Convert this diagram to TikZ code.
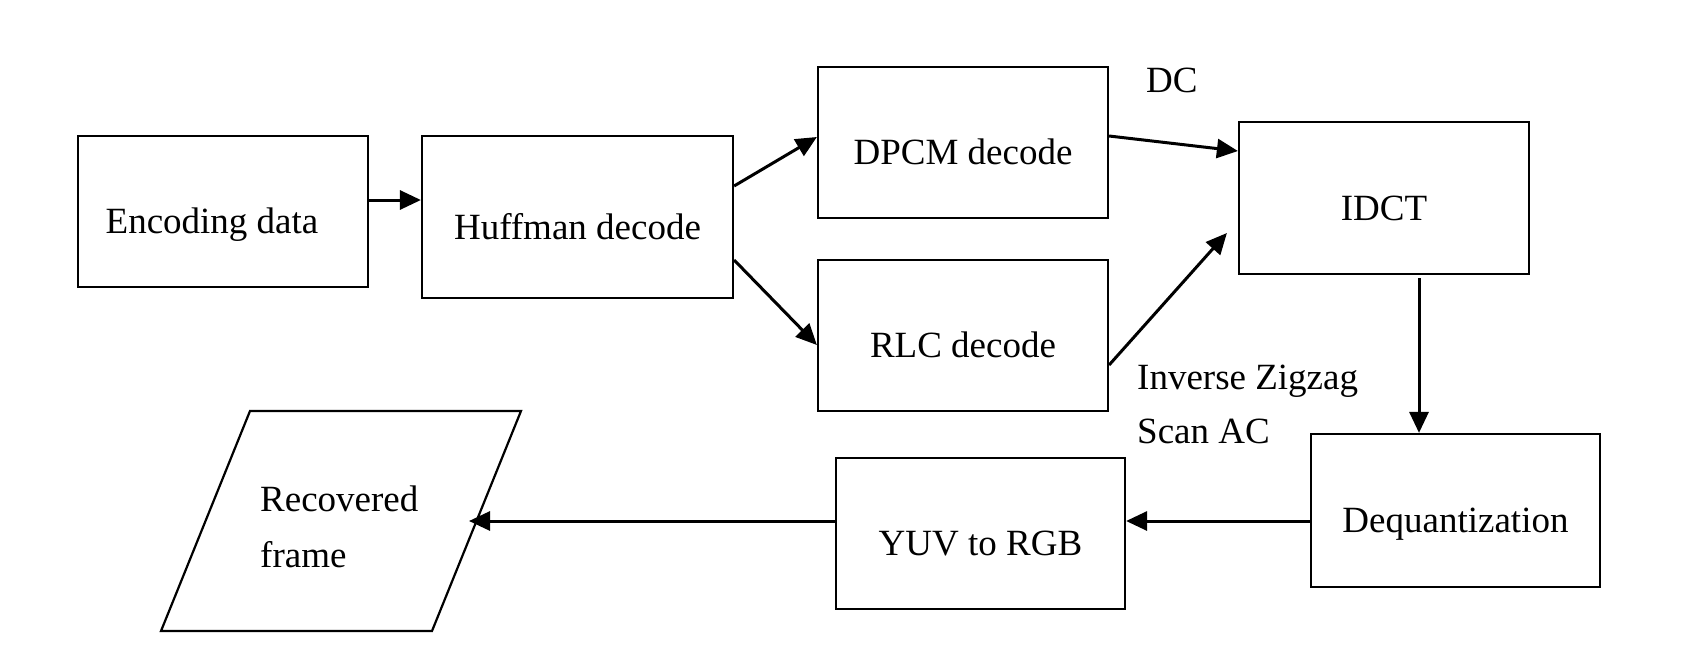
\documentclass[tikz,border=0pt]{standalone}
\usepackage{fontspec}
\setmainfont{Liberation Serif}
\usetikzlibrary{arrows.meta}
\begin{document}
\begin{tikzpicture}[x=1pt,y=-1pt,
  box/.style={draw,line width=2.2pt,inner sep=0pt,minimum width=290pt,minimum height=151pt,
    text height=44pt,text depth=0pt,font=\fontsize{37}{44}\selectfont},
  conn/.style={line width=3pt,-{Triangle[length=21pt,width=19pt]}},
  lbl/.style={inner sep=0pt,font=\fontsize{37}{56}\selectfont}]
\fill[white] (0,0) rectangle (1682,654);
\useasboundingbox (0,0) rectangle (1682,654);

\node[box] (enc) at (223,211.5) {Encoding data\kern22pt};
\node[box,minimum width=311pt,minimum height=162pt] (huff) at (577.5,217) {Huffman decode};
\node[box] (dpcm) at (963,142.5) {DPCM decode};
\node[box] (rlc) at (963,335.5) {RLC decode};
\node[box,minimum height=152pt] (idct) at (1384,198) {IDCT};
\node[box,minimum width=289pt,minimum height=153pt] (deq) at (1455.5,510.5) {Dequantization};
\node[box,minimum width=289pt] (yuv) at (980.5,533.5) {YUV to RGB};

\draw[line width=2.2pt,line join=miter] (250,411) -- (521,411) -- (432,631) -- (161,631) -- cycle;
\node[lbl,align=left,anchor=north west] (rec) at (260,486) {Recovered\\frame};
\coordinate (rectip) at (469,521);

\node[lbl,anchor=base west] (dc) at (1146,92) {DC};
\node[lbl,anchor=base west] (izz) at (1137,389) {Inverse Zigzag};
\node[lbl,anchor=base west] (sac) at (1137,443) {Scan AC};

\draw[conn] ([yshift=11.5pt]enc.east) -- ([yshift=17pt]huff.west);
\draw[conn] ([yshift=31pt]huff.east) -- ([yshift=5.5pt]dpcm.west);
\draw[conn] ([yshift=-43pt]huff.east) -- ([yshift=-9.5pt]rlc.west);
\draw[conn] ([yshift=6.5pt]dpcm.east) -- ([yshift=47pt]idct.west);
\draw[conn] ([yshift=-29.5pt]rlc.east) -- ([xshift=-11pt,yshift=-35pt]idct.west);
\draw[conn] ([xshift=35pt,yshift=-3pt]idct.south) -- ([xshift=-36.5pt]deq.north);
\draw[conn] ([yshift=-10.5pt]deq.west) -- ([yshift=12.5pt]yuv.east);
\draw[conn] ([yshift=12.5pt]yuv.west) -- (rectip);
\end{tikzpicture}
\end{document}
